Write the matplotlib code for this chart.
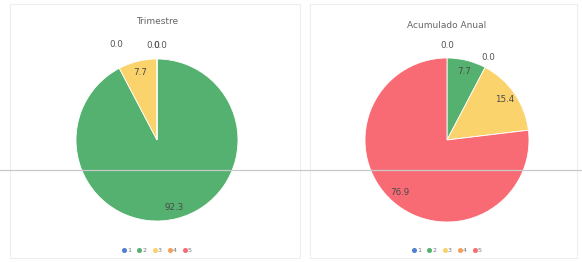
import matplotlib
matplotlib.use("Agg")
import matplotlib.pyplot as plt
from matplotlib.lines import Line2D
from matplotlib.patches import Rectangle
import numpy as np

categories = ["1", "2", "3", "4", "5"]
trimestre = [0.0, 92.3, 7.7, 0.0, 0.0]
acumulado = [0.0, 7.7, 15.4, 0.0, 76.9]
titles = ["Trimestre", "Acumulado Anual"]
colors = ["#4F7FD0", "#55B16F", "#FBD36C", "#F5A05A", "#F96B74"]

W, H = 582, 262
fig = plt.figure(figsize=(W / 100, H / 100), dpi=100)
fig.patch.set_facecolor("white")

# panel frames
for x0, x1 in [(10, 300), (310, 577)]:
    fig.add_artist(Rectangle((x0 / W, 4 / H), (x1 - x0) / W, 254 / H,
                             transform=fig.transFigure, fill=False,
                             edgecolor="#eeeeee", lw=0.8))
# horizontal line across
fig.add_artist(Line2D([0, 1], [1 - 170 / H, 1 - 170 / H], transform=fig.transFigure,
                      color="#c9c9c9", lw=0.9, zorder=5))

panels = [
    dict(values=trimestre, cx=157, cy=140, r=81, title_y=22,
         zero_nudges=[(-4, 1), (-41, 2), (3, 1)]),
    dict(values=acumulado, cx=447, cy=140, r=82, title_y=25,
         zero_nudges=[(0, 0), (-52, 71)]),
]

for p, title in zip(panels, titles):
    cx, cy, r = p["cx"], p["cy"], p["r"]
    ax = fig.add_axes([(cx - r) / W, (H - cy - r) / H, 2 * r / W, 2 * r / H])
    vals = p["values"]
    wedges, _ = ax.pie(vals, colors=colors, startangle=90, counterclock=False,
                       radius=1, wedgeprops=dict(linewidth=0.6, edgecolor="white"))
    ax.set_xlim(-1, 1)
    ax.set_ylim(-1, 1)
    ax.set_aspect("equal")
    ax.axis("off")
    total = sum(vals)
    cum = 0.0
    zi = 0
    for v in vals:
        mid = cum + v / 2
        ang = np.deg2rad(90 - 360 * mid / total)
        if v > 0:
            rr = 0.86
            ax.text(rr * np.cos(ang), rr * np.sin(ang), f"{v:.1f}", ha="center",
                    va="center", fontsize=6.3, color="#4a4a4a")
        else:
            rr = 1.15
            dx, dy = p["zero_nudges"][zi] if zi < len(p["zero_nudges"]) else (0, 0)
            ax.annotate(f"{v:.1f}", (rr * np.cos(ang), rr * np.sin(ang)),
                        xytext=(dx, dy), textcoords="offset pixels",
                        ha="center", va="center", fontsize=6.3, color="#555555",
                        annotation_clip=False)
            zi += 1
        cum += v
    fig.text(cx / W, 1 - p["title_y"] / H, title, ha="center", va="center",
             fontsize=6.5, color="#666666")
    handles = [Line2D([], [], marker="o", linestyle="", markersize=2.6,
                      markerfacecolor=c, markeredgecolor=c) for c in colors]
    fig.legend(handles, categories, loc="center", bbox_to_anchor=(cx / W, 1 - 250 / H),
               ncol=5, frameon=False, fontsize=4.6, handletextpad=0.15,
               columnspacing=1.0, handlelength=0.6, labelcolor="#777777")

fig.savefig("out.png", dpi=100)
